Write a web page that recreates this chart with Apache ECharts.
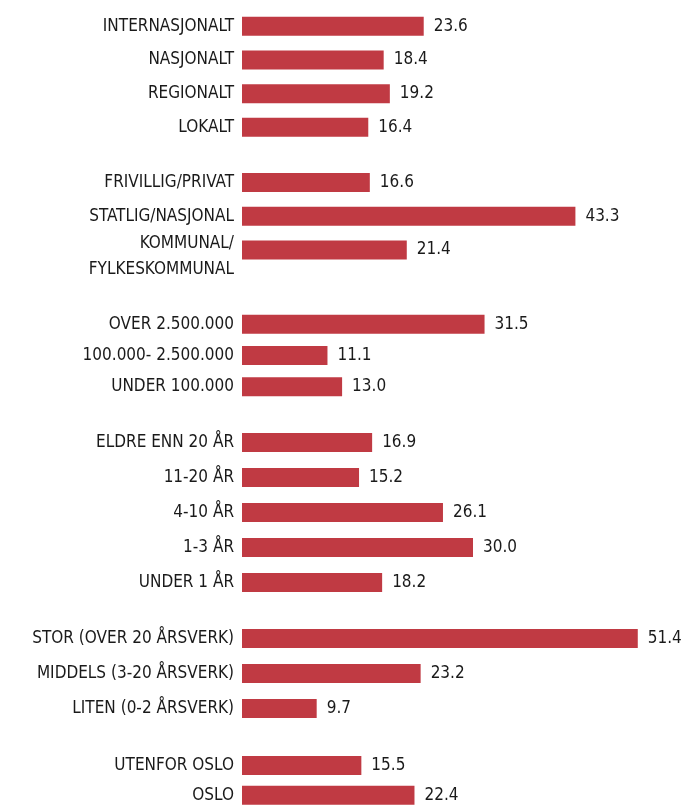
<!DOCTYPE html>
<html>
<head>
<meta charset="utf-8">
<script src="https://cdn.jsdelivr.net/npm/echarts@6/dist/echarts.min.js"></script>
<style>
  html, body { margin: 0; padding: 0; background: #fff; }
  #chart { width: 686px; height: 810px; }
</style>
</head>
<body>
<div id="chart"></div>
<script>
// data per group, top to bottom
const scopeCats = ['INTERNASJONALT', 'NASJONALT', 'REGIONALT', 'LOKALT']
const scopeVals = [23.6, 18.4, 19.2, 16.4]
const ownerCats = ['FRIVILLIG/PRIVAT', 'STATLIG/NASJONAL', 'KOMMUNAL/\nFYLKESKOMMUNAL']
const ownerVals = [16.6, 43.3, 21.4]
const budgetCats = ['OVER 2.500.000', '100.000- 2.500.000', 'UNDER 100.000']
const budgetVals = [31.5, 11.1, 13.0]
const ageCats = ['ELDRE ENN 20 ÅR', '11-20 ÅR', '4-10 ÅR', '1-3 ÅR', 'UNDER 1 ÅR']
const ageVals = [16.9, 15.2, 26.1, 30.0, 18.2]
const sizeCats = ['STOR (OVER 20 ÅRSVERK)', 'MIDDELS (3-20 ÅRSVERK)', 'LITEN (0-2 ÅRSVERK)']
const sizeVals = [51.4, 23.2, 9.7]
const placeCats = ['UTENFOR OSLO', 'OSLO']
const placeVals = [15.5, 22.4]

const groups = [
  { cats: scopeCats, vals: scopeVals, top: 9.5, height: 134.7 },
  { cats: ownerCats, vals: ownerVals, top: 165.6, height: 101.3 },
  { cats: budgetCats, vals: budgetVals, top: 308.7, height: 93.6 },
  { cats: ageCats, vals: ageVals, top: 425, height: 175 },
  { cats: sizeCats, vals: sizeVals, top: 621, height: 105 },
  { cats: placeCats, vals: placeVals, top: 750.8, height: 67 }
]

const font = '"DejaVu Sans Condensed", "Liberation Sans Narrow", sans-serif'
const textColor = '#1a1a1a'
const barColor = '#c03a43'

let grids = [], xAxes = [], yAxes = [], series = []

groups.forEach(function (g, i) {
  grids.push({ left: 242, right: 20.5, top: g.top, height: g.height })
  xAxes.push({ type: 'value', gridIndex: i, min: 0, max: 55, show: false })
  yAxes.push({
    type: 'category',
    gridIndex: i,
    inverse: true,
    data: g.cats,
    axisLine: { show: false },
    axisTick: { show: false },
    axisLabel: {
      interval: 0,
      margin: 8,
      color: textColor,
      fontSize: 17,
      fontFamily: font,
      formatter: function (v) {
        if (v.indexOf('\n') < 0) return v
        // two-line label sits lower than the bar in the original
        return '{s| }\n' + v.split('\n').map(function (l) { return '{a|' + l + '}' }).join('\n')
      },
      rich: {
        s: { lineHeight: 14, fontSize: 8 },
        a: { lineHeight: 26, fontSize: 17, fontFamily: font, color: textColor }
      }
    }
  })
  series.push({
    type: 'bar',
    xAxisIndex: i,
    yAxisIndex: i,
    data: g.vals,
    barWidth: 19,
    itemStyle: { color: barColor },
    label: {
      show: true,
      position: 'right',
      distance: 10,
      color: textColor,
      fontSize: 17,
      fontFamily: font,
      formatter: function (p) { return p.value.toFixed(1) }
    }
  })
})

let myChart = echarts.init(document.getElementById('chart'))
myChart.setOption({
  backgroundColor: '#fff',
  animation: false,
  grid: grids,
  xAxis: xAxes,
  yAxis: yAxes,
  series: series
})
</script>
</body>
</html>
